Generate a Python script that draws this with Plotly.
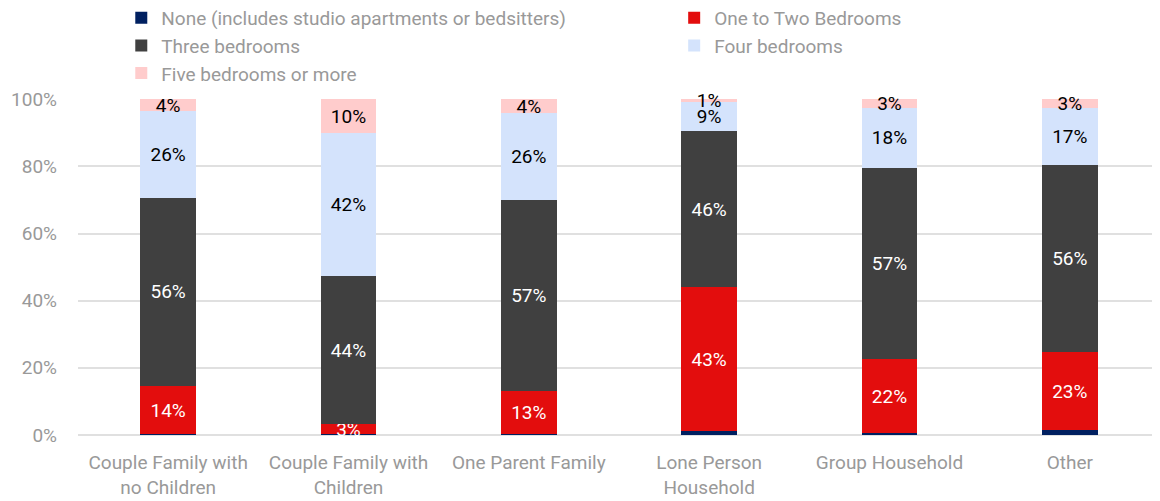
import plotly.graph_objects as go

categories = ["Couple Family with<br>no Children", "Couple Family with<br>Children", "One Parent Family",
              "Lone Person<br>Household", "Group Household", "Other"]
series_names = ["None (includes studio apartments or bedsitters)", "One to Two Bedrooms",
                "Three bedrooms", "Four bedrooms", "Five bedrooms or more"]
none_vals = [0.2, 0.2, 0.3, 1.2, 0.6, 1.4]
one_two_vals = [14.4, 3.1, 12.8, 42.8, 22.0, 23.3]
three_vals = [56.0, 44.0, 56.8, 46.4, 56.9, 55.7]
four_vals = [25.9, 42.5, 25.9, 8.8, 17.9, 16.9]
five_vals = [3.5, 10.2, 4.2, 0.8, 2.6, 2.7]
y_ticks = [0, 20, 40, 60, 80, 100]
y_tick_labels = ["0%", "20%", "40%", "60%", "80%", "100%"]

colors = ["#002060", "#E30D0D", "#404040", "#D4E3FC", "#FFCCCC"]
label_colors = ["white", "white", "white", "black", "black"]
legend_ids = ["legend", "legend2", "legend", "legend2", "legend"]
all_vals = [none_vals, one_two_vals, three_vals, four_vals, five_vals]

fig = go.Figure()
for i, (name, vals) in enumerate(zip(series_names, all_vals)):
    text = None if i == 0 else [f"{round(v)}%" for v in vals]
    fig.add_trace(go.Bar(
        x=categories, y=vals, name=name, legend=legend_ids[i],
        marker=dict(color=colors[i], line=dict(width=0)),
        text=text, textposition="inside" if text else "none",
        insidetextanchor="middle",
        textfont=dict(color=label_colors[i], size=19, family="Roboto"),
        constraintext="none", cliponaxis=False,
        hoverinfo="skip",
    ))

legend_common = dict(orientation="v", yanchor="top", xanchor="left",
                     font=dict(size=19, color="#999999", family="Roboto"),
                     itemclick=False, itemdoubleclick=False, traceorder="normal",
                     bgcolor="rgba(0,0,0,0)")

fig.update_layout(
    barmode="stack",
    bargap=0.69,
    width=1160, height=501,
    margin=dict(l=70, r=8, t=91, b=74, autoexpand=False),
    paper_bgcolor="white", plot_bgcolor="white",
    font=dict(family="Roboto", color="#999999", size=19),
    uniformtext=dict(minsize=19, mode="show"),
    legend=dict(x=0.040, y=1.298, **legend_common),
    legend2=dict(x=0.551, y=1.298, **legend_common),
    showlegend=True,
)
fig.update_yaxes(range=[0, 100.05], tickvals=y_ticks, ticktext=y_tick_labels,
                 showgrid=True, gridcolor="#E0E0E0", gridwidth=2,
                 zeroline=True, zerolinecolor="#E0E0E0", zerolinewidth=2,
                 ticks="", ticklabelstandoff=20, automargin=False,
                 tickfont=dict(size=19, color="#999999"))
fig.update_xaxes(showgrid=False, tickfont=dict(size=19, color="#999999"),
                 ticks="", ticklabelstandoff=14, automargin=False)

fig.write_html("out.html")
